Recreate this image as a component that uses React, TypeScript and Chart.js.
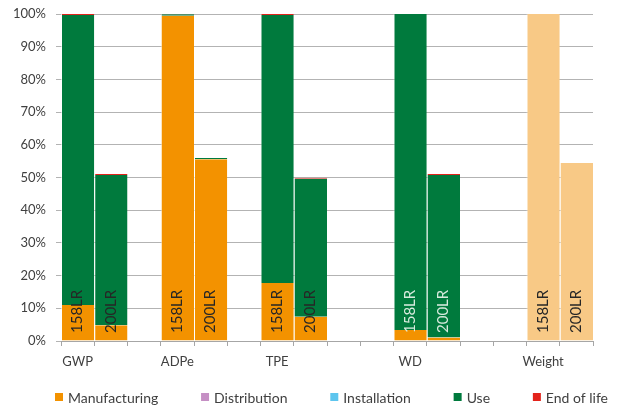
import React, { useEffect, useRef } from 'react';
import { Chart, registerables } from 'chart.js';

Chart.register(...registerables);

// ---- data ----
const slots = ['GWP', '', '', 'ADPe', '', '', 'TPE', '', '', '', 'WD', '', '', '', 'Weight', ''];
const variants = ['158LR', '200LR', '', '158LR', '200LR', '', '158LR', '200LR', '', '', '158LR', '200LR', '', '', '158LR', '200LR'];
const manufacturing = [11, 4.8, null, 99.5, 55.6, null, 17.7, 7.4, null, null, 3.4, 1.1, null, null, null, null];
const distribution = [0, 0, null, 0, 0, null, 0, 0, null, null, 0, 0, null, null, null, null];
const installation = [0, 0, null, 0, 0, null, 0, 0, null, null, 0, 0, null, null, null, null];
const use = [88.7, 46.0, null, 0.4, 0.4, null, 82.0, 42.2, null, null, 96.6, 49.7, null, null, null, null];
const endOfLife = [0.3, 0.3, null, 0.1, 0, null, 0.3, 0.3, null, null, 0, 0.3, null, null, null, null];
const weight = [null, null, null, null, null, null, null, null, null, null, null, null, null, null, 100, 54.4];
const seriesNames = ['Manufacturing', 'Distribution', 'Installation', 'Use', 'End of life'];

// ---- styles ----
const COLORS = ['#F39200', '#C58FC4', '#5DC5EE', '#007A3D', '#E3231B'];
const WEIGHT_COLOR = '#F8C986';
const TEXT = '#404040';
const FONT = 'Lato';
const lightLabelGroups = ['WD'];

const barLabelPlugin = {
  id: 'barLabels',
  afterDatasetsDraw(chart: any) {
    const { ctx, scales } = chart;
    const x = scales.x;
    const y = scales.y;
    const base = y.getPixelForValue(0);
    let group = '';
    ctx.save();
    ctx.font = `15px ${FONT}`;
    ctx.textAlign = 'left';
    ctx.textBaseline = 'middle';
    variants.forEach((v, i) => {
      if (slots[i]) group = slots[i];
      if (!v) return;
      const px = x.getPixelForValue(i);
      ctx.save();
      ctx.translate(px, base - 8);
      ctx.rotate(-Math.PI / 2);
      ctx.fillStyle = lightLabelGroups.includes(group) ? 'rgba(225,240,230,0.95)' : '#262626';
      ctx.fillText(v, 0, 0);
      ctx.restore();
    });
    ctx.restore();
  },
};

const legendPlugin = {
  id: 'customLegend',
  afterDraw(chart: any) {
    const { ctx } = chart;
    const left = 55;
    const right = 608;
    const cy = 397;
    const box = 8;
    const boxGap = 5;
    ctx.save();
    ctx.font = `14px ${FONT}`;
    ctx.textBaseline = 'middle';
    ctx.textAlign = 'left';
    const widths = seriesNames.map((n) => ctx.measureText(n).width);
    const total = widths.reduce((a, w) => a + w + box + boxGap, 0);
    const gap = (right - left - total) / (seriesNames.length - 1);
    let cx = left;
    seriesNames.forEach((n, i) => {
      ctx.fillStyle = COLORS[i];
      ctx.fillRect(cx, cy - box / 2, box, box);
      ctx.fillStyle = TEXT;
      ctx.fillText(n, cx + box + boxGap, cy + 1);
      cx += box + boxGap + widths[i] + gap;
    });
    ctx.restore();
  },
};

export default function App() {
  const ref = useRef<HTMLCanvasElement | null>(null);

  useEffect(() => {
    document.body.style.margin = '0';
    const canvas = ref.current;
    if (!canvas) return;
    const seriesData = [manufacturing, distribution, installation, use, endOfLife];
    const border = { left: 1, right: 0, top: 0, bottom: 0 };
    const datasets: any[] = seriesNames.map((name, i) => ({
      label: name,
      data: seriesData[i],
      backgroundColor: COLORS[i],
      borderColor: 'rgba(255,255,255,0.6)',
      borderWidth: border,
      borderSkipped: false,
      inflateAmount: 0,
      clip: false,
    }));
    datasets.push({
      label: 'Weight',
      data: weight,
      backgroundColor: WEIGHT_COLOR,
      borderColor: 'rgba(255,255,255,0.6)',
      borderWidth: border,
      borderSkipped: false,
      inflateAmount: 0,
      clip: false,
    });

    const chart = new Chart(canvas, {
      type: 'bar',
      data: { labels: slots, datasets },
      options: {
        responsive: false,
        animation: false,
        layout: { padding: { left: 0, right: 25, top: 14, bottom: 38 } },
        datasets: { bar: { barPercentage: 1, categoryPercentage: 1 } },
        plugins: {
          legend: { display: false },
          tooltip: { enabled: false },
        },
        scales: {
          x: {
            stacked: true,
            grid: { drawOnChartArea: false, color: '#A6A6A6', tickLength: 5, offset: true },
            border: { color: '#A6A6A6' },
            ticks: {
              autoSkip: false,
              maxRotation: 0,
              padding: 8,
              color: TEXT,
              font: { family: FONT, size: 13 },
            },
            afterFit: (s: any) => {
              s.height = 28;
              s.paddingLeft = 0;
              s.paddingRight = 0;
            },
          },
          y: {
            stacked: true,
            min: 0,
            max: 100,
            grid: { color: '#B3B3B3', tickLength: 5 },
            border: { display: false },
            ticks: {
              stepSize: 10,
              padding: 10,
              color: TEXT,
              font: { family: FONT, size: 13 },
              callback: (v: any) => `${v}%`,
            },
            afterFit: (s: any) => {
              s.width = 61;
              s.paddingTop = 0;
              s.paddingBottom = 0;
            },
          },
        },
      },
      plugins: [barLabelPlugin, legendPlugin],
    });
    return () => chart.destroy();
  }, []);

  return (
    <div style={{ width: 618, height: 407 }}>
      <canvas ref={ref} width={618} height={407} />
    </div>
  );
}
